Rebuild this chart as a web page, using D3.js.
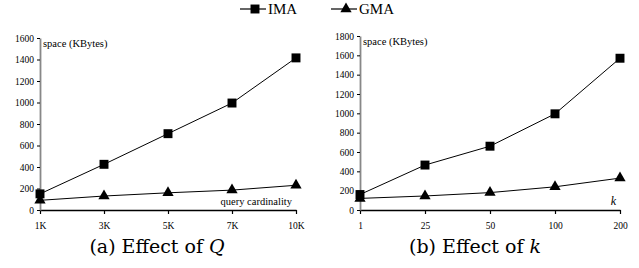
<!DOCTYPE html>
<html>
<head>
<meta charset="utf-8">
<script src="https://cdn.jsdelivr.net/npm/d3@7"></script>
<style>
  body { margin: 0; background: #fff; }
  svg { display: block; }
</style>
</head>
<body>
<svg id="chart" width="639" height="268"></svg>
<script>
// panel (a): effect of query cardinality
var qLabels = ["1K", "3K", "5K", "7K", "10K"];
var qIMA = [150, 425, 710, 995, 1415];
var qGMA = [90, 130, 160, 185, 230];
var qTicks = [0, 200, 400, 600, 800, 1000, 1200, 1400, 1600];

// panel (b): effect of k
var kLabels = ["1", "25", "50", "100", "200"];
var kIMA = [160, 465, 660, 995, 1570];
var kGMA = [120, 145, 180, 240, 330];
var kTicks = [0, 200, 400, 600, 800, 1000, 1200, 1400, 1600, 1800];

var series = ["IMA", "GMA"];

var SERIF = "Liberation Serif";
var svg = d3.select("#chart");

function symbolFor(name) {
  return name === "IMA" ? d3.symbol().type(d3.symbolSquare).size(80)
                        : d3.symbol().type(d3.symbolTriangle).size(55);
}

function panel(opts) {
  var g = svg.append("g");
  var x = d3.scalePoint().domain(opts.labels).range([opts.x0, opts.x1]);
  var y = d3.scaleLinear().domain([0, d3.max(opts.ticks)]).range([210, opts.yTop]);

  // x axis
  var xa = g.append("g").attr("transform", "translate(0,210)")
    .call(d3.axisBottom(x).tickSizeInner(4).tickSizeOuter(0).tickPadding(8));
  xa.select(".domain").attr("stroke", "#000").attr("stroke-width", 1.3);
  xa.selectAll(".tick line").attr("stroke", "#000").attr("stroke-width", 1.2);

  // y axis
  var ya = g.append("g").attr("transform", "translate(" + opts.x0 + ",0)")
    .call(d3.axisLeft(y).tickValues(opts.ticks).tickFormat(d3.format("d"))
      .tickSizeInner(3).tickSizeOuter(0).tickPadding(3));
  ya.select(".domain").attr("stroke", "#888").attr("stroke-width", 1.8);
  ya.selectAll(".tick line").attr("stroke", "#000");

  xa.attr("font-family", SERIF).attr("font-size", 9.5);
  ya.attr("font-family", SERIF).attr("font-size", 9.5);
  g.selectAll(".tick text").attr("fill", "#000");

  var sets = {IMA: opts.ima, GMA: opts.gma};
  var line = d3.line()
    .x(function(d, i){ return x(opts.labels[i]); })
    .y(function(d){ return y(d); });

  series.forEach(function(s) {
    g.append("path")
      .attr("d", line(sets[s]))
      .attr("fill", "none")
      .attr("stroke", "#000")
      .attr("stroke-width", 1);
    g.selectAll(".m" + s)
      .data(sets[s])
      .enter().append("path")
      .attr("transform", function(d, i){ return "translate(" + x(opts.labels[i]) + "," + y(d) + ")"; })
      .attr("d", symbolFor(s)())
      .attr("fill", "#000");
  });

  g.append("text")
    .attr("x", opts.x0 + 3).attr("y", opts.yTop + 9)
    .attr("font-family", SERIF).attr("font-size", 10.5)
    .text("space (KBytes)");

  var xl = g.append("text")
    .attr("x", opts.x1 - 4).attr("y", 205)
    .attr("text-anchor", "end")
    .attr("font-family", SERIF).attr("font-size", 10.5)
    .text(opts.xTitle);
  if (opts.xItalic) xl.attr("font-style", "italic").attr("font-size", 12);

  var cap = g.append("text")
    .attr("x", opts.capX).attr("y", 253)
    .attr("text-anchor", "middle")
    .attr("font-family", "DejaVu Serif").attr("font-size", 19);
  cap.append("tspan").text(opts.cap);
  cap.append("tspan").attr("font-style", "italic").text(opts.capVar);
}

panel({labels: qLabels, ima: qIMA, gma: qGMA, ticks: qTicks,
  x0: 40, x1: 296, yTop: 38, xTitle: "query cardinality", xItalic: false,
  cap: "(a) Effect of ", capVar: "Q", capX: 157});
panel({labels: kLabels, ima: kIMA, gma: kGMA, ticks: kTicks,
  x0: 360, x1: 620, yTop: 36, xTitle: "k", xItalic: true,
  cap: "(b) Effect of ", capVar: "k", capX: 475});

// legend
var legend = svg.append("g").attr("transform", "translate(240,9)");
var item = legend.selectAll("g").data(series).enter().append("g")
  .attr("transform", function(d, i){ return "translate(" + (i * 91) + ",0)"; });
item.append("line").attr("x1", 0).attr("x2", 26).attr("stroke", "#000").attr("stroke-width", 1.2);
item.append("path").attr("transform", "translate(15,0)")
  .attr("d", function(d){ return symbolFor(d)(); }).attr("fill", "#000");
item.append("text").attr("x", 28).attr("y", 5)
  .attr("font-family", SERIF).attr("font-size", 15)
  .text(function(d){ return d; });
</script>
</body>
</html>
